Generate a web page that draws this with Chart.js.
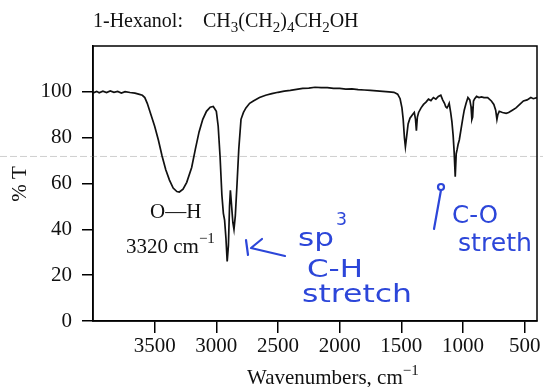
<!DOCTYPE html>
<html>
<head>
<meta charset="utf-8">
<script src="https://cdn.jsdelivr.net/npm/chart.js@4/dist/chart.umd.min.js"></script>
<style>
	html, body { margin: 0; padding: 0; background: #fff; }
	#wrap { width: 543px; height: 387px; }
</style>
</head>
<body>
<div id="wrap"><canvas id="chartIR" width="543" height="387"></canvas></div>
<script>
'use strict'

// spectrum: wavenumber (cm-1) and % transmittance
const wavenumbers = [
	4000, 3970, 3950, 3920, 3890, 3860, 3830, 3800, 3770, 3740, 3700, 3660, 3630,
	3600, 3580, 3560, 3530, 3500, 3470, 3440, 3410, 3380, 3350, 3320, 3300, 3270,
	3240, 3200, 3170, 3140, 3110, 3080, 3050, 3025, 3000, 2985, 2970, 2955, 2943,
	2933, 2922, 2912, 2902, 2893, 2886, 2876, 2866, 2857, 2846, 2832, 2818, 2800,
	2780, 2760, 2730, 2700, 2650, 2600, 2550, 2500, 2450, 2400, 2300, 2250, 2200,
	2150, 2100, 2050, 2000, 1950, 1900, 1850, 1800, 1750, 1700, 1650, 1600, 1560,
	1530, 1510, 1495, 1485, 1475, 1467, 1458, 1445, 1430, 1410, 1395, 1385, 1378,
	1370, 1360, 1340, 1320, 1300, 1280, 1260, 1240, 1220, 1200, 1180, 1165, 1150,
	1140, 1130, 1120, 1112, 1100, 1090, 1080, 1072, 1063, 1055, 1047, 1040, 1030,
	1015, 1000, 990, 975, 960, 945, 935, 928, 922, 915, 905, 890, 870, 850, 830,
	800, 770, 750, 735, 725, 718, 706, 680, 650, 630, 600, 570, 540, 510, 480,
	450, 430, 400
];
const transmittance = [
	99.5, 100.2, 99.6, 100.3, 99.7, 100.4, 99.8, 100.2, 99.5, 100.1, 99.7, 99.4, 99.0,
	98.5, 97.5, 95, 90, 85, 79, 72, 66, 61.5, 58, 56.5, 56.3, 57.5,
	60.5, 67, 75, 82.5, 88, 91.5, 93.3, 93.6, 91.5, 85, 72, 55, 47,
	44, 36, 26, 33, 50, 57, 50, 43, 40, 46, 60, 75, 88,
	91, 93, 95, 96, 97.5, 98.5, 99.2, 99.8, 100.3, 100.6, 101.5, 101.6, 102,
	101.8, 101.8, 101.5, 101.5, 101.2, 101.3, 101, 100.8, 100.6, 100.4, 100.2, 100, 99.8,
	99, 97, 93, 88, 80, 76, 80, 86, 88.5, 90, 91, 88, 83,
	89, 91, 93, 94.5, 95.5, 96.8, 96.2, 97.5, 96.8, 98, 98.5, 96.5, 95,
	93.5, 93, 94, 95, 91, 87, 81, 74, 63, 73, 75, 77, 79,
	84, 89, 92, 95, 97.5, 96.5, 93.6, 88, 89, 96, 97, 98, 97.5, 97.8, 97.5,
	97.5, 96, 94.5, 92, 88, 90, 91.5, 91, 90.6, 91, 92, 93, 94.5, 96, 96.5,
	97.5, 97, 97.5
];

const xTicks = [3500, 3000, 2500, 2000, 1500, 1000, 500];
const yTicks = [0, 20, 40, 60, 80, 100];
const scanLineValue = 71.8;

const serif = "'Liberation Serif', 'Times New Roman', serif";
const ink = '#2c46d9';

// draw runs of text with sub/superscripts: [text, dy, size]
function drawRuns(ctx, x, y, runs, family){
	runs.forEach(function(r){
		ctx.font = r[2] + 'px ' + family;
		ctx.fillText(r[0], x, y + r[1]);
		x += ctx.measureText(r[0]).width;
	});
	return x;
}

// handwriting is wide and loose: stretch the glyphs to the width seen on the scan
function handText(ctx, text, x, y, size, width){
	ctx.save();
	ctx.font = size + "px 'DejaVu Sans', sans-serif";
	ctx.fillStyle = ink;
	let m = ctx.measureText(text).width;
	ctx.translate(x, y);
	ctx.scale(width / m, 1);
	ctx.fillText(text, 0, 0);
	ctx.restore();
}

function pen(ctx, pts){
	ctx.beginPath();
	ctx.moveTo(pts[0][0], pts[0][1]);
	for(let i = 1; i < pts.length; i++) ctx.lineTo(pts[i][0], pts[i][1]);
	ctx.stroke();
}

const decorations = {
	id: 'decorations',
	beforeDatasetsDraw(chart){
		const ctx = chart.ctx;
		const y = chart.scales.y.getPixelForValue(scanLineValue);
		// faint line left by the scanner
		ctx.save();
		ctx.strokeStyle = '#cfcfcf';
		ctx.lineWidth = 1;
		ctx.setLineDash([7, 3]);
		ctx.beginPath();
		ctx.moveTo(0, y);
		ctx.lineTo(chart.width, y);
		ctx.stroke();
		ctx.restore();
	},
	afterDraw(chart){
		const ctx = chart.ctx;
		const a = chart.chartArea;
		ctx.save();
		// frame
		ctx.strokeStyle = '#000';
		ctx.lineWidth = 1.5;
		ctx.strokeRect(a.left, a.top, a.right - a.left, a.bottom - a.top);

		// title
		ctx.fillStyle = '#111';
		ctx.textBaseline = 'alphabetic';
		ctx.textAlign = 'left';
		drawRuns(ctx, 93, 27, [['1-Hexanol:', 0, 20]], serif);
		drawRuns(ctx, 203, 27, [
			['CH', 0, 20], ['3', 5, 15], ['(CH', 0, 20], ['2', 5, 15], [')', 0, 20],
			['4', 5, 15], ['CH', 0, 20], ['2', 5, 15], ['OH', 0, 20]
		], serif);

		// axis titles
		drawRuns(ctx, 247, 384, [['Wavenumbers, cm', 0, 21], ['\u22121', -9, 15]], serif);
		ctx.save();
		ctx.translate(26, 184);
		ctx.rotate(-Math.PI / 2);
		ctx.textAlign = 'center';
		ctx.font = '21px ' + serif;
		ctx.fillText('% T', 0, 0);
		ctx.restore();

		// printed peak label
		drawRuns(ctx, 150, 218, [['O\u2014H', 0, 21]], serif);
		drawRuns(ctx, 126, 253, [['3320 cm', 0, 21], ['\u22121', -10, 15]], serif);

		// handwritten notes
		ctx.strokeStyle = ink;
		ctx.lineWidth = 2.2;
		ctx.lineCap = 'round';
		ctx.lineJoin = 'round';
		pen(ctx, [[246, 240], [248, 255]]);
		pen(ctx, [[262, 239], [251, 248], [285, 256]]);
		pen(ctx, [[434, 229], [441, 190]]);
		ctx.beginPath();
		ctx.arc(441, 187, 3, 0, Math.PI * 2);
		ctx.stroke();

		handText(ctx, 'sp', 298, 246, 24, 36);
		handText(ctx, '3', 336, 225, 17, 11);
		handText(ctx, 'C-H', 307, 277, 24, 56);
		handText(ctx, 'stretch', 302, 302, 24, 110);
		handText(ctx, 'C-O', 452, 223, 24, 46);
		handText(ctx, 'streth', 458, 251, 24, 74);
		ctx.restore();
	}
};

const points = wavenumbers.map((w, i) => ({x: w, y: transmittance[i]}));

new Chart(document.getElementById('chartIR'), {
	type: 'line',
	data: {
		datasets: [{
			data: points,
			borderColor: '#111',
			borderWidth: 1.7,
			pointRadius: 0,
			tension: 0,
			fill: false,
		}],
	},
	plugins: [decorations],
	options: {
		responsive: false,
		devicePixelRatio: 1,
		animation: false,
		layout: {
			padding: {top: 46, right: 6, left: 0, bottom: 0},
		},
		plugins: {
			legend: {display: false},
			tooltip: {enabled: false},
		},
		scales: {
			x: {
				type: 'linear',
				reverse: true,
				min: 400,
				max: 4000,
				afterBuildTicks: (s) => { s.ticks = xTicks.map(v => ({value: v})); },
				afterFit: (s) => { s.height = 66; },
				grid: {
					drawOnChartArea: false,
					tickLength: 12,
					color: '#000',
					lineWidth: 1.5,
				},
				border: {color: '#000', width: 1.5},
				ticks: {
					color: '#111',
					font: {family: serif, size: 21},
					padding: 1,
					maxRotation: 0,
					autoSkip: false,
					callback: (v) => String(v),
				},
			},
			y: {
				min: 0,
				max: 120,
				afterBuildTicks: (s) => { s.ticks = yTicks.map(v => ({value: v})); },
				afterFit: (s) => { s.width = 93; },
				grid: {
					drawOnChartArea: false,
					tickLength: 11,
					color: '#000',
					lineWidth: 1.5,
				},
				border: {color: '#000', width: 1.5},
				ticks: {
					color: '#111',
					font: {family: serif, size: 21},
					padding: 10,
					callback: (v) => String(v),
				},
			},
		},
	},
});
</script>
</body>
</html>
